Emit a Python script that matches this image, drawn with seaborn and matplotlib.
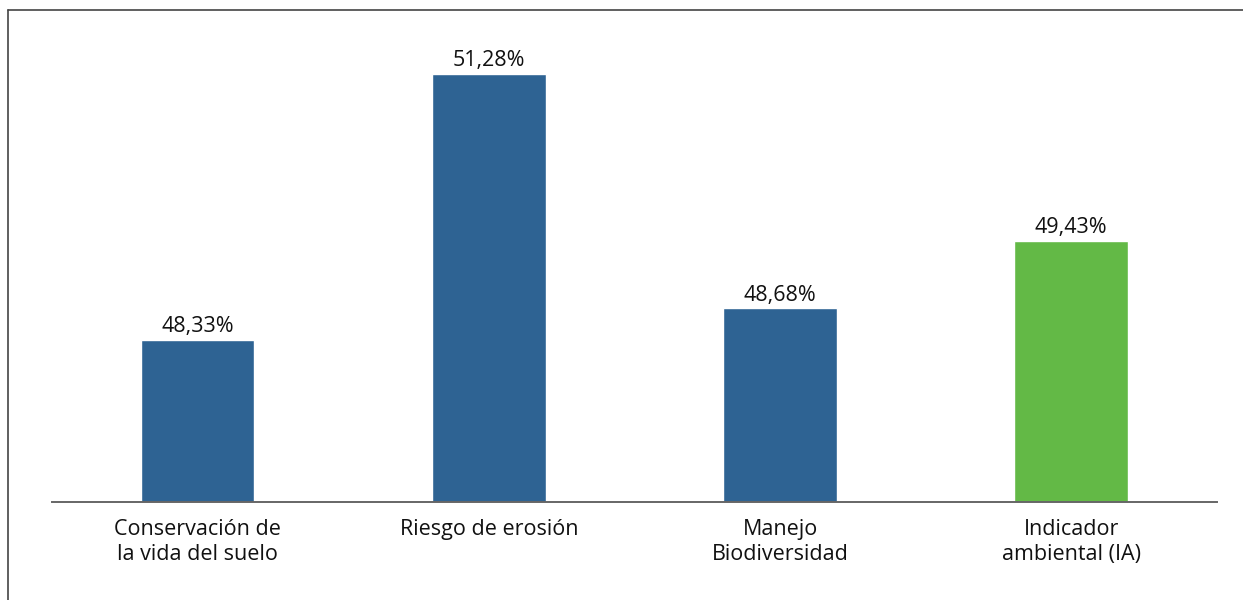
import matplotlib
matplotlib.use("Agg")
import matplotlib.pyplot as plt
from matplotlib.lines import Line2D
import seaborn as sns
import pandas as pd

# Chart data
categorias = ["Conservación de\nla vida del suelo", "Riesgo de erosión",
              "Manejo\nBiodiversidad", "Indicador\nambiental (IA)"]
valores = [48.33, 51.28, 48.68, 49.43]
etiquetas = ["48,33%", "51,28%", "48,68%", "49,43%"]
colores = ["#2E6393", "#2E6393", "#2E6393", "#63B946"]

df = pd.DataFrame({"categoria": categorias, "valor": valores})

sns.set_style("white")
plt.rcParams["font.family"] = ["Open Sans", "DejaVu Sans"]

fig = plt.figure(figsize=(12.43, 6), dpi=100)
ax = fig.add_axes([0.0418, 0.1633, 0.9372, 0.8034])

sns.barplot(data=df, x="categoria", y="valor", hue="categoria",
            palette=colores, width=0.39, saturation=1, legend=False, ax=ax)

ax.set_xlim(-0.5, 3.5)
ax.set_ylim(46.533, 51.878)

for i, (v, t) in enumerate(zip(valores, etiquetas)):
    ax.annotate(t, (i, v), xytext=(0, 2), textcoords="offset points",
                ha="center", va="bottom", fontsize=15.5, color="#111111")

ax.set_xlabel("")
ax.set_ylabel("")
ax.set_yticks([])
ax.tick_params(axis="x", length=0, pad=12, labelsize=15.5, labelcolor="#111111")
for lbl in ax.get_xticklabels():
    lbl.set_linespacing(1.3)

for s in ["top", "left", "right"]:
    ax.spines[s].set_visible(False)
ax.spines["bottom"].set_color("#666666")
ax.spines["bottom"].set_linewidth(1.4)

# outer frame (left and top edges visible)
x0 = 8 / 1243
y0 = 1 - 10 / 600
fig.add_artist(Line2D([x0, x0], [0, y0], transform=fig.transFigure, color="#444444", lw=1.2))
fig.add_artist(Line2D([x0, 1], [y0, y0], transform=fig.transFigure, color="#444444", lw=1.2))

fig.savefig("out.png", dpi=100)
